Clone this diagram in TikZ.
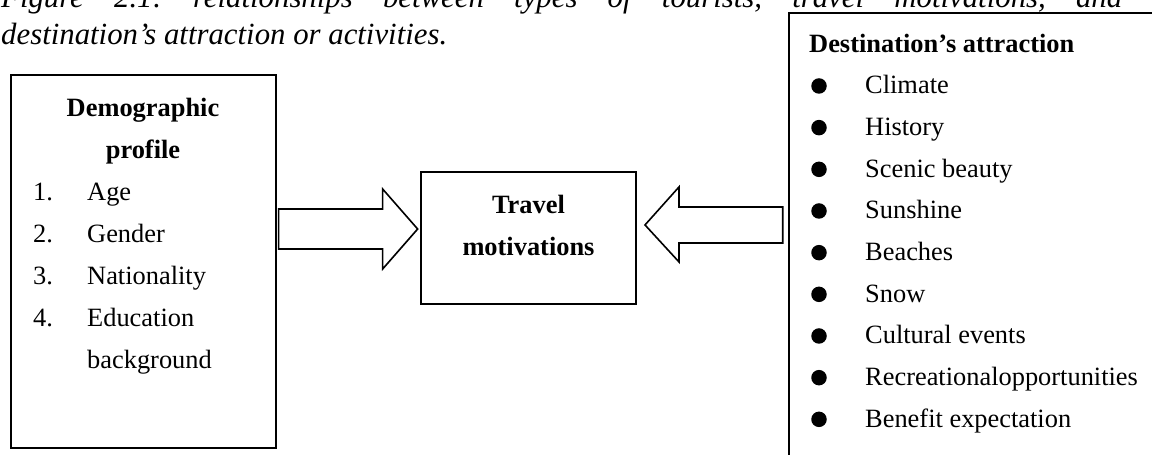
\documentclass[tikz,border=0pt]{standalone}
\usepackage{fontspec}
\setmainfont{Liberation Serif}
\begin{document}
\begin{tikzpicture}[x=1pt,y=-1pt,
  box/.style={draw,line width=1.9pt,inner sep=0pt},
  blk/.style={draw,line width=1.6pt,line join=miter},
  body/.style={inner sep=0pt,font=\fontsize{26.4}{42}\selectfont},
  head/.style={inner sep=0pt,font=\fontsize{26.4}{42}\selectfont\bfseries},
  captxt/.style={inner sep=0pt,anchor=base west,font=\fontsize{30.8}{36}\selectfont\itshape},
  dot/.style={circle,fill,inner sep=0pt,minimum size=15.5pt}]
\useasboundingbox (0,0) rectangle (1152,455);
\clip (0,0) rectangle (1152,455);

% caption
\node[captxt] (cap1) at (1,8) {\hbox to 1121pt{Figure\hfill 2.1:\hfill relationships\hfill between\hfill types\hfill of\hfill tourists,\hfill travel\hfill motivations,\hfill and}};
\node[captxt] (cap2) at (1,44) {destination’s attraction or activities.};

% boxes
\node[box,minimum width=265pt,minimum height=373pt] (demo) at (143.5,261.5) {};
\node[box,minimum width=215pt,minimum height=132pt] (motiv) at (528.5,238) {};
\node[box,minimum width=380pt,minimum height=470pt,anchor=north west] (attr) at (788,12) {};

% demographic profile
\node[head,anchor=base] (demoT1) at (143,116) {Demographic};
\node[head,anchor=base] (demoT2) at (143,158) {profile};
\foreach \n/\t [count=\i] in {1./Age,2./Gender,3./Nationality,4./Education}{
  \node[body,anchor=base west] (num\i) at (33,{158+\i*42}) {\n};
  \node[body,anchor=base west] (dem\i) at (87,{158+\i*42}) {\t};
}
\node[body,anchor=base west] (dem5) at (87,368) {background};

% travel motivations
\node[head,anchor=base] (motT1) at (528.5,213) {Travel};
\node[head,anchor=base] (motT2) at (528.5,255) {motivations};

% destination's attraction
\node[head,anchor=base west] (attrT) at (809,52) {Destination’s attraction};
\foreach \t [count=\i] in {Climate,History,Scenic beauty,Sunshine,Beaches,Snow,Cultural events,Recreationalopportunities,Benefit expectation}{
  \node[dot] (b\i) at (819,{52+\i*41.67-7.7}) {};
  \node[body,anchor=base west] (it\i) at (865,{52+\i*41.67}) {\t};
}

% block arrows
\draw[blk] ([shift={(1.7,-52.5)}]demo.east) -- ++(104,0) -- ++(0,-20) -- ++(35,40)
  -- ++(-35,40) -- ++(0,-20) -- ++(-104,0) -- cycle;
\draw[blk] ([shift={(-5.3,-41)}]attr.west) -- ++(-103.7,0) -- ++(0,-20) -- ++(-34,38)
  -- ++(34,37) -- ++(0,-19) -- ++(103.7,0) -- cycle;
\end{tikzpicture}
\end{document}
